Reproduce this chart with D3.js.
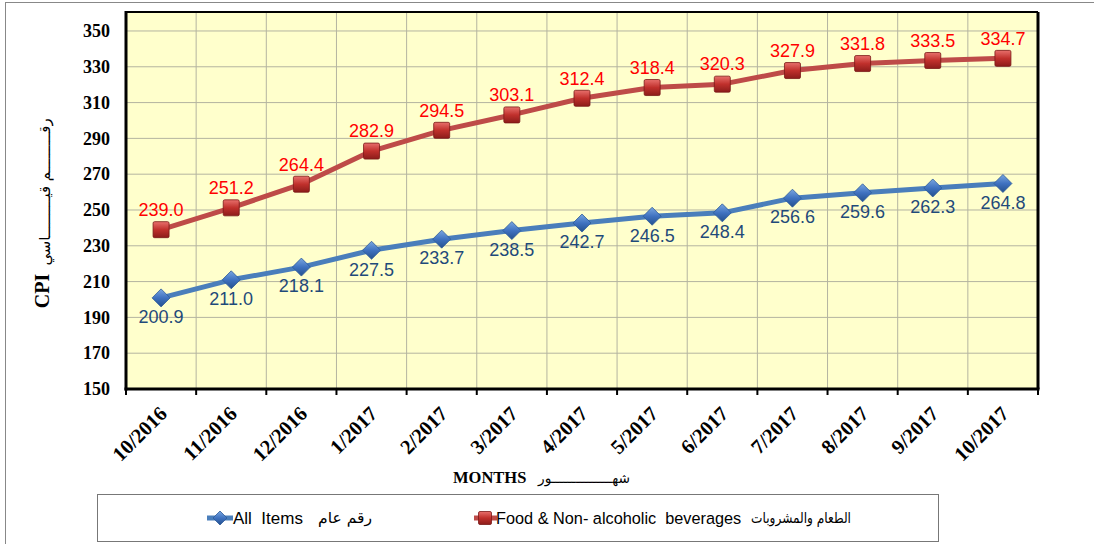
<!DOCTYPE html>
<html><head><meta charset="utf-8">
<script src="https://cdn.jsdelivr.net/npm/d3@7"></script>
<style>body{margin:0;background:#fff}svg{display:block}</style>
</head><body>
<script>
const months = ["10/2016","11/2016","12/2016","1/2017","2/2017","3/2017","4/2017","5/2017","6/2017","7/2017","8/2017","9/2017","10/2017"];
const allItems = [200.9,211.0,218.1,227.5,233.7,238.5,242.7,246.5,248.4,256.6,259.6,262.3,264.8];
const food = [239.0,251.2,264.4,282.9,294.5,303.1,312.4,318.4,320.3,327.9,331.8,333.5,334.7];
const yTicks = [150,170,190,210,230,250,270,290,310,330,350];

const W=1094,H=544;
const SERIF="'Liberation Serif','Times New Roman',serif";
const SANS="'Liberation Sans',Arial,sans-serif";
const AR="'DejaVu Sans',sans-serif";
const svg=d3.select("body").append("svg").attr("width",W).attr("height",H);
const defs=svg.append("defs");
const gr=defs.append("linearGradient").attr("id","gRed").attr("x1",0).attr("y1",0).attr("x2",0).attr("y2",1);
gr.append("stop").attr("offset","0").attr("stop-color","#e8706c");
gr.append("stop").attr("offset","0.5").attr("stop-color","#c0302c");
gr.append("stop").attr("offset","1").attr("stop-color","#8c1c1a");
const gb=defs.append("linearGradient").attr("id","gBlue").attr("x1",0).attr("y1",0).attr("x2",0).attr("y2",1);
gb.append("stop").attr("offset","0").attr("stop-color","#7aa6e0");
gb.append("stop").attr("offset","0.5").attr("stop-color","#3f72c0");
gb.append("stop").attr("offset","1").attr("stop-color","#24508e");

// outer frame
svg.append("rect").attr("x",5.5).attr("y",2.5).attr("width",W+10).attr("height",H+10)
  .attr("fill","none").attr("stroke","#888").attr("stroke-width",1);

const L=126,R=1038,T=12,B=389;
const x=d3.scaleBand().domain(months).range([L,R]);
const y=d3.scaleLinear().domain([150,360.6]).range([B,T]);

svg.append("rect").attr("x",L).attr("y",T).attr("width",R-L).attr("height",B-T).attr("fill","#ffffcc");
// grid
svg.append("g").selectAll("line").data(yTicks.slice(1)).join("line")
  .attr("x1",L).attr("x2",R).attr("y1",d=>y(d)).attr("y2",d=>y(d))
  .attr("stroke","#b4b4a0").attr("stroke-width",1);
svg.append("g").selectAll("line").data(months.slice(1)).join("line")
  .attr("x1",d=>x(d)).attr("x2",d=>x(d)).attr("y1",T).attr("y2",B)
  .attr("stroke","#b4b4a0").attr("stroke-width",1);
// frame
svg.append("line").attr("x1",L).attr("x2",R).attr("y1",T).attr("y2",T).attr("stroke","#000").attr("stroke-width",2);
svg.append("line").attr("x1",R).attr("x2",R).attr("y1",T).attr("y2",B).attr("stroke","#000").attr("stroke-width",3);

// axes
const yAxis=svg.append("g").attr("transform",`translate(${L},0)`)
  .call(d3.axisLeft(y).tickValues(yTicks).tickSize(0).tickPadding(16));
yAxis.select(".domain").remove();
yAxis.selectAll("text").attr("font-family",SERIF)
  .attr("font-weight","bold").attr("font-size","18px").attr("fill","#000");
svg.append("line").attr("x1",L).attr("x2",L).attr("y1",T-1).attr("y2",B+1.5).attr("stroke","#000").attr("stroke-width",3);

const xAxisG=svg.append("g");
xAxisG.selectAll("line").data(months.concat(["__end"])).join("line")
  .attr("x1",(d,i)=>i<months.length?x(d):R).attr("x2",(d,i)=>i<months.length?x(d):R)
  .attr("y1",B).attr("y2",B+6).attr("stroke","#000").attr("stroke-width",2);
svg.append("line").attr("x1",L-1.5).attr("x2",R+1.5).attr("y1",B).attr("y2",B).attr("stroke","#000").attr("stroke-width",3);
xAxisG.selectAll("text").data(months).join("text")
  .attr("transform",d=>`translate(${x(d)+x.bandwidth()/2+2},${B+21}) rotate(-45)`)
  .attr("text-anchor","end").attr("dy","0.35em")
  .attr("font-family",SERIF)
  .attr("font-weight","bold").attr("font-size","20.5px").text(d=>d);

// axis titles
svg.append("text").attr("x",453).attr("y",483).attr("text-anchor","start")
  .attr("font-family",SERIF).attr("font-weight","bold").attr("font-size","16.5px").text("MONTHS");
svg.append("text").attr("x",538).attr("y",483).attr("text-anchor","start")
  .attr("font-family",AR).attr("font-size","14px").attr("textLength",92).attr("lengthAdjust","spacingAndGlyphs")
  .text("شهـــــــــــــــور");

svg.append("text").attr("transform","translate(49,291) rotate(-90)").attr("text-anchor","middle")
  .attr("font-family",SERIF).attr("font-weight","bold").attr("font-size","20px").text("CPI");
svg.append("text").attr("transform","translate(50,192) rotate(-90)").attr("text-anchor","middle")
  .attr("font-family",AR).attr("font-size","15px").attr("textLength",147).attr("lengthAdjust","spacingAndGlyphs")
  .text("رقـــــــــم قيـــــــــاسي");

const cx=d=>x(d)+x.bandwidth()/2;
const line=d3.line().x((d,i)=>cx(months[i])).y(d=>y(d));

// series
svg.append("path").datum(allItems).attr("d",line).attr("fill","none").attr("stroke","#4a7ebb").attr("stroke-width",5).attr("stroke-linejoin","round");
svg.append("path").datum(food).attr("d",line).attr("fill","none").attr("stroke","#be4b48").attr("stroke-width",5).attr("stroke-linejoin","round");

function diamond(g,px,py,s){
  g.append("path").attr("d",`M${px},${py-s}L${px+s},${py}L${px},${py+s}L${px-s},${py}Z`)
   .attr("fill","url(#gBlue)").attr("stroke","#2c5a98").attr("stroke-width",0.8);
}
function square(g,px,py,s){
  g.append("rect").attr("x",px-s).attr("y",py-s).attr("width",2*s).attr("height",2*s).attr("rx",1.5)
   .attr("fill","url(#gRed)").attr("stroke","#7a1816").attr("stroke-width",0.8);
}
const mg=svg.append("g");
allItems.forEach((v,i)=>diamond(mg,cx(months[i]),y(v),9));
food.forEach((v,i)=>square(mg,cx(months[i]),y(v),8));

svg.append("g").selectAll("text").data(allItems).join("text")
  .attr("x",(d,i)=>cx(months[i])).attr("y",d=>y(d)+19).attr("dy","0.35em").attr("text-anchor","middle")
  .attr("font-family",SANS).attr("font-size","18px").attr("fill","#1f4a7a")
  .text(d=>d.toFixed(1));
svg.append("g").selectAll("text").data(food).join("text")
  .attr("x",(d,i)=>cx(months[i])).attr("y",d=>y(d)-20).attr("dy","0.35em").attr("text-anchor","middle")
  .attr("font-family",SANS).attr("font-size","18px").attr("fill","#ff0000")
  .text(d=>d.toFixed(1));

// legend
svg.append("rect").attr("x",97.5).attr("y",494.5).attr("width",841).attr("height",47)
  .attr("fill","#fff").attr("stroke","#777").attr("stroke-width",1);
const lg=svg.append("g");
lg.append("line").attr("x1",207).attr("x2",233).attr("y1",518).attr("y2",518).attr("stroke","#4a7ebb").attr("stroke-width",5);
diamond(lg,220,518,7);
lg.append("text").attr("x",233).attr("y",518).attr("dy","0.35em").attr("font-family",SANS).attr("font-size","17px").attr("xml:space","preserve").text("All  Items");
lg.append("text").attr("x",318).attr("y",518).attr("dy","0.35em").attr("text-anchor","start").attr("font-family",AR).attr("font-size","15px")
  .attr("textLength",54).attr("lengthAdjust","spacingAndGlyphs").text("رقم عام");
lg.append("line").attr("x1",474).attr("x2",497).attr("y1",518).attr("y2",518).attr("stroke","#be4b48").attr("stroke-width",5);
square(lg,485,518,6.5);
lg.append("text").attr("x",496).attr("y",518).attr("dy","0.35em").attr("font-family",SANS).attr("font-size","16.3px").attr("xml:space","preserve").text("Food & Non- alcoholic  beverages");
lg.append("text").attr("x",751).attr("y",518).attr("dy","0.35em").attr("text-anchor","start").attr("font-family",AR).attr("font-size","15px")
  .attr("textLength",100).attr("lengthAdjust","spacingAndGlyphs").text("الطعام والمشروبات");
</script>
</body></html>
